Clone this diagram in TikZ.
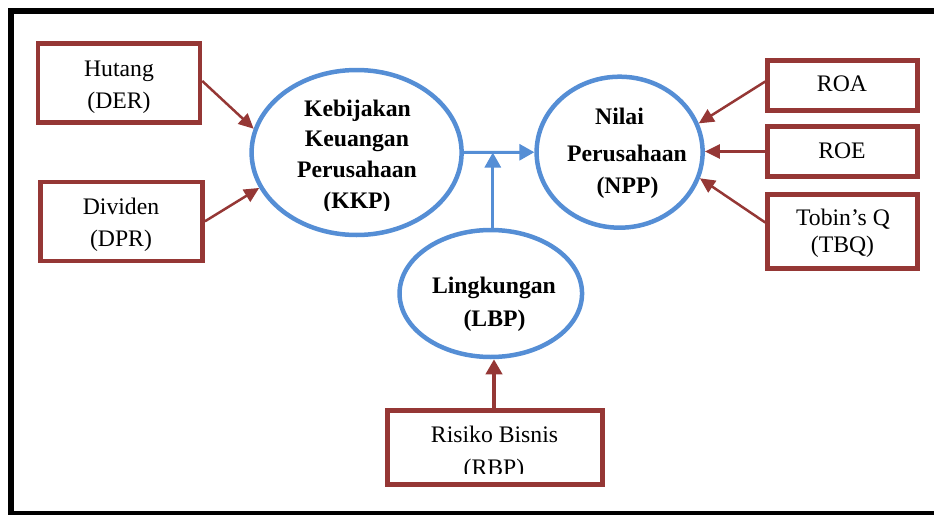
\documentclass[tikz,border=0pt]{standalone}
\usepackage{fontspec}
\setmainfont{Liberation Serif}
\usetikzlibrary{shapes.geometric,arrows.meta}
\definecolor{boxred}{HTML}{953735}
\definecolor{ellblue}{HTML}{558ED5}
\begin{document}
\begin{tikzpicture}[x=1pt,y=-1pt,
  redbox/.style={draw=boxred,line width=4.5pt,rectangle,inner sep=0pt},
  blueell/.style={draw=ellblue,line width=4.5pt,ellipse,inner sep=0pt},
  txt/.style={inner sep=0pt,anchor=base,font=\fontsize{23.7}{28}\selectfont},
  btxt/.style={inner sep=0pt,anchor=base,font=\fontsize{23.7}{28}\selectfont\bfseries},
  redarrow/.style={draw=boxred,line width=2.5pt,-{Triangle[length=15pt,width=14pt]}},
  bluearrow/.style={draw=ellblue,line width=3pt,-{Triangle[length=15pt,width=16pt]}},
]
\useasboundingbox (0,0) rectangle (934,514);
\clip (0,0) rectangle (934,514);
% frame
\draw[line width=6pt] (11,11) rectangle (950,513.5);

% boxes
\node[redbox,minimum width=162pt,minimum height=79pt] (hut) at (119,83) {};
\node[redbox,minimum width=162pt,minimum height=79pt] (div) at (121.7,221.3) {};
\node[redbox,minimum width=150pt,minimum height=50pt] (roa) at (842.5,85.5) {};
\node[redbox,minimum width=150pt,minimum height=50pt] (roe) at (842.5,151.5) {};
\node[redbox,minimum width=150pt,minimum height=74pt] (tbq) at (842.5,231.5) {};
\node[redbox,minimum width=215pt,minimum height=74pt] (rbp) at (495,447.5) {};

% ellipses
\node[blueell,minimum width=210pt,minimum height=165pt] (kkp) at (356.6,152.5) {};
\node[blueell,minimum width=166pt,minimum height=151pt] (npp) at (619.6,152.2) {};
\node[blueell,minimum width=182.5pt,minimum height=127pt] (lbp) at (490.8,293.5) {};

% texts
\node[txt] (t1) at (119,76.7) {Hutang};
\node[txt] (t2) at (119,108) {(DER)};
\node[txt] (t3) at (121,214) {Dividen};
\node[txt] (t4) at (121,246) {(DPR)};
\node[txt] (t5) at (842,91.7) {ROA};
\node[txt] (t6) at (842,158.3) {ROE};
\node[txt] (t7) at (843,225.7) {Tobin’s Q};
\node[txt] (t8) at (842.5,252.7) {(TBQ)};
\node[btxt] (k1) at (357.5,116) {Kebijakan};
\node[btxt] (k2) at (357,146.7) {Keuangan};
\node[btxt] (k3) at (357,177.7) {Perusahaan};
\begin{scope}
  \clip (250,185) rectangle (460,210);
  \node[btxt] (k4) at (357,208) {(KKP)};
\end{scope}
\node[btxt] (n1) at (619.5,124) {Nilai};
\node[btxt] (n2) at (627,161.7) {Perusahaan};
\node[btxt] (n3) at (627.5,193.3) {(NPP)};
\node[btxt] (l1) at (494,293.3) {Lingkungan};
\node[btxt] (l2) at (494.5,326) {(LBP)};
\node[txt] (r1) at (494.5,442.7) {Risiko Bisnis};
\begin{scope}
  \clip (390,450) rectangle (600,473);
  \node[txt] (r2) at (494,475) {(RBP)};
\end{scope}

% connectors
\draw[redarrow] ([yshift=2pt]hut.east) -- (kkp.167);
\draw[redarrow] (div.east) -- (kkp.200);
\draw[redarrow] ([yshift=4pt]roa.west) -- (npp.20);
\draw[redarrow] (roe.west) -- (roe.west -| npp.east);
\draw[redarrow] ([yshift=9pt]tbq.west) -- (npp.-18);
\draw[bluearrow] (kkp.east) -- (npp.west);
\coordinate (j) at ([xshift=2pt]lbp.north |- kkp.east);
\draw[bluearrow] ([xshift=2pt]lbp.north) -- (j);
\draw[draw=boxred,line width=4pt,-{Triangle[length=15pt,width=16pt]}] ([xshift=-1pt]rbp.north) -- ([xshift=-1pt]rbp.north |- lbp.south);
\end{tikzpicture}
\end{document}
